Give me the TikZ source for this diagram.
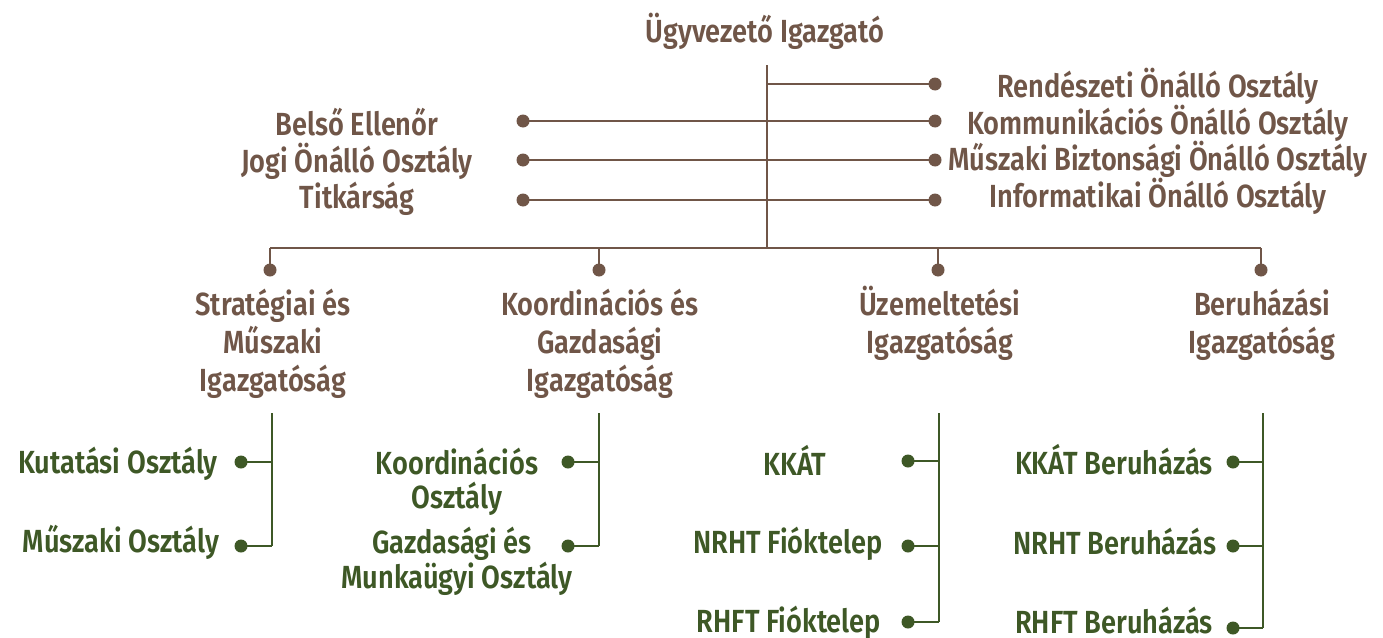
\documentclass[tikz,border=0pt]{standalone}
\usepackage{fontspec}
\setmainfont{Fira Sans}[UprightFont=* SemiBold, FakeStretch=0.85]
\definecolor{brn}{HTML}{705648}
\definecolor{grn}{HTML}{3E5826}
\tikzset{
  bl/.style={draw=brn,line width=1.5pt},
  gl/.style={draw=grn,line width=1.5pt},
  bdot/.style={circle,fill=brn,inner sep=0pt,minimum size=13pt},
  gdot/.style={circle,fill=grn,inner sep=0pt,minimum size=13pt},
  bt/.style={text=brn,font=\fontsize{32}{38}\selectfont,inner sep=0pt,anchor=base},
  gt/.style={text=grn,font=\fontsize{32}{38}\selectfont,inner sep=0pt,anchor=base},
}
\begin{document}
\begin{tikzpicture}[x=1pt,y=-1pt]
\useasboundingbox (0,0) rectangle (1383,637);
% title
\node[bt] (ceo) at (765,42) {Ügyvezető Igazgató};
\coordinate (ttop) at (767,65);
\coordinate (tbot) at (767,248);
\draw[bl] (ttop) -- (tbot);
% staff dots
\node[bdot] (r1) at (935,84) {};
\node[bdot] (r2) at (935,121) {};
\node[bdot] (r3) at (935,160) {};
\node[bdot] (r4) at (935,200) {};
\node[bdot] (l1) at (523,121) {};
\node[bdot] (l2) at (523,160) {};
\node[bdot] (l3) at (523,200) {};
\coordinate (j1) at (767,84);
\draw[bl] (j1) -- (r1.center);
\draw[bl] (l1.center) -- (r2.center);
\draw[bl] (l2.center) -- (r3.center);
\draw[bl] (l3.center) -- (r4.center);
% staff labels
\node[bt] (lt1) at (357,135) {Belső Ellenőr};
\node[bt] (lt2) at (357,172) {Jogi Önálló Osztály};
\node[bt] (lt3) at (357,208) {Titkárság};
\node[bt] (rt1) at (1158,97) {Rendészeti Önálló Osztály};
\node[bt] (rt2) at (1158,134) {Kommunikációs Önálló Osztály};
\node[bt] (rt3) at (1158,170) {Műszaki Biztonsági Önálló Osztály};
\node[bt] (rt4) at (1158,207) {Informatikai Önálló Osztály};
% directorates bar
\coordinate (b1) at (270,248);
\coordinate (b2) at (599,248);
\coordinate (b3) at (938,248);
\coordinate (b4) at (1261,248);
\draw[bl] (b1) -- (b4);
\node[bdot] (d1) at (270,270) {};
\node[bdot] (d2) at (599,270) {};
\node[bdot] (d3) at (938,270) {};
\node[bdot] (d4) at (1261,270) {};
\draw[bl] (b1) -- (d1.center);
\draw[bl] (b2) -- (d2.center);
\draw[bl] (b3) -- (d3.center);
\draw[bl] (b4) -- (d4.center);
\node[bt] (d1a) at (273,315) {Stratégiai és};
\node[bt] (d1b) at (273,353) {Műszaki};
\node[bt] (d1c) at (273,391) {Igazgatóság};
\node[bt] (d2a) at (600,315) {Koordinációs és};
\node[bt] (d2b) at (600,353) {Gazdasági};
\node[bt] (d2c) at (600,391) {Igazgatóság};
\node[bt] (d3a) at (940,315) {Üzemeltetési};
\node[bt] (d3b) at (940,353) {Igazgatóság};
\node[bt] (d4a) at (1262,315) {Beruházási};
\node[bt] (d4b) at (1262,353) {Igazgatóság};
% column 1
\coordinate (v1t) at (272,413);
\coordinate (v1a) at (272,462);
\coordinate (v1b) at (272,546);
\draw[gl] (v1t) -- (v1b);
\node[gdot] (k1) at (241,462) {};
\node[gdot] (k2) at (241,546) {};
\draw[gl] (k1.center) -- (v1a);
\draw[gl] (k2.center) -- (v1b);
\node[gt] (k1t) at (118,473) {Kutatási Osztály};
\node[gt] (k2t) at (121,552) {Műszaki Osztály};
% column 2
\coordinate (v2t) at (599,413);
\coordinate (v2a) at (599,462);
\coordinate (v2b) at (599,546);
\draw[gl] (v2t) -- (v2b);
\node[gdot] (m1) at (568,462) {};
\node[gdot] (m2) at (568,546) {};
\draw[gl] (m1.center) -- (v2a);
\draw[gl] (m2.center) -- (v2b);
\node[gt] (m1a) at (457,474) {Koordinációs};
\node[gt] (m1b) at (457,508) {Osztály};
\node[gt] (m2a) at (452,553) {Gazdasági és};
\node[gt] (m2b) at (457,588) {Munkaügyi Osztály};
% column 3
\coordinate (v3t) at (939,413);
\coordinate (v3a) at (939,461);
\coordinate (v3b) at (939,546);
\coordinate (v3c) at (939,622);
\draw[gl] (v3t) -- (v3c);
\node[gdot] (u1) at (908,461) {};
\node[gdot] (u2) at (908,546) {};
\node[gdot] (u3) at (908,622) {};
\draw[gl] (u1.center) -- (v3a);
\draw[gl] (u2.center) -- (v3b);
\draw[gl] (u3.center) -- (v3c);
\node[gt] (u1t) at (795,475) {KKÁT};
\node[gt] (u2t) at (788,553) {NRHT Fióktelep};
\node[gt] (u3t) at (789,632) {RHFT Fióktelep};
% column 4
\coordinate (v4t) at (1263,413);
\coordinate (v4a) at (1263,462);
\coordinate (v4b) at (1263,546);
\coordinate (v4c) at (1263,628);
\draw[gl] (v4t) -- (v4c);
\node[gdot] (e1) at (1233,462) {};
\node[gdot] (e2) at (1233,546) {};
\node[gdot] (e3) at (1233,628) {};
\draw[gl] (e1.center) -- (v4a);
\draw[gl] (e2.center) -- (v4b);
\draw[gl] (e3.center) -- (v4c);
\node[gt] (e1t) at (1114,474) {KKÁT Beruházás};
\node[gt] (e2t) at (1115,554) {NRHT Beruházás};
\node[gt] (e3t) at (1114,633) {RHFT Beruházás};
\end{tikzpicture}
\end{document}
